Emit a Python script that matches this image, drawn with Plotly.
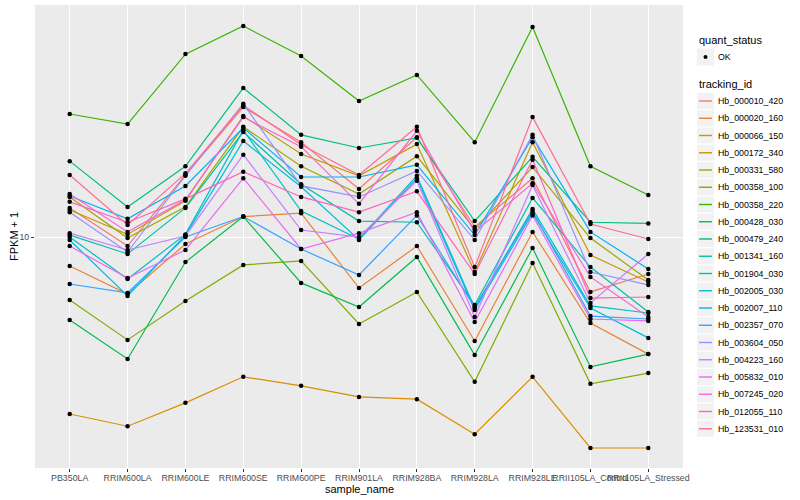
import plotly.graph_objects as go

samples = ["PB350LA", "RRIM600LA", "RRIM600LE", "RRIM600SE", "RRIM600PE", "RRIM901LA",
           "RRIM928BA", "RRIM928LA", "RRIM928LE", "RRII105LA_Control", "RRII105LA_Stressed"]

tracking_ids = ["Hb_000010_420", "Hb_000020_160", "Hb_000066_150", "Hb_000172_340", "Hb_000331_580",
                "Hb_000358_100", "Hb_000358_220", "Hb_000428_030", "Hb_000479_240", "Hb_001341_160",
                "Hb_001904_030", "Hb_002005_030", "Hb_002007_110", "Hb_002357_070", "Hb_003604_050",
                "Hb_004223_160", "Hb_005832_010", "Hb_007245_020", "Hb_012055_110", "Hb_123531_010"]

palette = ["#F8766D", "#EA8331", "#D89000", "#C09B00", "#A3A500", "#7CAE00", "#39B600", "#00BB4E",
           "#00BF7D", "#00C1A3", "#00BFC4", "#00BAE0", "#00B0F6", "#35A2FF", "#9590FF", "#C77CFF",
           "#E76BF3", "#FA62DB", "#FF62BC", "#FF6C91"]

# FPKM + 1 per sample (order of `samples`)
Hb_000010_420 = [12.5, 9.33, 16.1, 27.1, 20.7, 14.45, 21.5, 10.8, 15.7, 6.56, 7.53]
Hb_000020_160 = [8.00, 6.46, 9.48, 11.7, 12.0, 6.76, 9.33, 4.50, 10.4, 5.17, 4.07]
Hb_000066_150 = [2.57, 2.34, 2.80, 3.42, 3.19, 2.93, 2.88, 2.20, 3.42, 1.98, 1.98]
Hb_000172_340 = [12.3, 10.2, 13.2, 25.3, 18.9, 16.0, 20.4, 7.64, 20.7, 8.71, 7.08]
Hb_000331_580 = [13.6, 9.92, 12.6, 23.3, 17.2, 13.9, 18.6, 10.6, 17.1, 9.92, 7.19]
Hb_000358_100 = [6.17, 4.54, 6.12, 8.07, 8.32, 5.13, 6.56, 3.29, 8.19, 3.24, 3.52]
Hb_000358_220 = [25.7, 23.8, 40.7, 50.5, 40.1, 28.4, 34.7, 20.7, 50.1, 17.2, 13.8]
Hb_000428_030 = [5.29, 3.92, 8.25, 11.7, 7.03, 5.84, 8.58, 4.04, 9.19, 3.69, 4.07]
Hb_000479_240 = [17.9, 12.6, 17.2, 31.4, 21.9, 19.8, 21.4, 11.3, 18.5, 11.2, 11.1]
Hb_001341_160 = [10.15, 8.78, 12.5, 22.4, 15.0, 11.3, 11.2, 5.93, 13.5, 7.94, 5.62]
Hb_001904_030 = [10.0, 7.24, 10.2, 22.7, 12.2, 9.85, 16.0, 5.80, 12.4, 5.89, 5.58]
Hb_002005_030 = [9.77, 6.36, 10.15, 20.9, 14.7, 9.77, 15.7, 5.71, 12.0, 5.80, 4.61]
Hb_002007_110 = [13.7, 11.5, 14.8, 23.1, 15.85, 15.85, 17.4, 10.15, 21.5, 10.4, 7.82]
Hb_002357_070 = [6.97, 6.51, 10.0, 11.7, 9.12, 7.47, 11.8, 5.84, 12.2, 5.45, 5.33]
Hb_003604_050 = [12.1, 8.91, 16.0, 27.8, 14.8, 13.6, 16.6, 9.77, 21.9, 7.64, 6.92]
Hb_004223_160 = [10.3, 9.05, 10.08, 18.8, 10.55, 10.0, 15.4, 5.41, 14.9, 6.03, 8.78]
Hb_005832_010 = [9.33, 7.30, 9.05, 15.7, 9.12, 10.3, 12.1, 5.21, 11.8, 5.33, 5.25]
Hb_007245_020 = [13.9, 10.4, 13.3, 25.1, 20.0, 12.9, 22.6, 10.4, 15.1, 7.36, 5.41]
Hb_012055_110 = [13.1, 11.2, 13.4, 16.5, 13.6, 12.1, 14.2, 7.53, 18.1, 6.26, 6.31]
Hb_123531_010 = [16.1, 10.96, 16.3, 27.5, 20.3, 16.1, 23.3, 7.94, 25.1, 11.05, 9.85]

series = [Hb_000010_420, Hb_000020_160, Hb_000066_150, Hb_000172_340, Hb_000331_580,
          Hb_000358_100, Hb_000358_220, Hb_000428_030, Hb_000479_240, Hb_001341_160,
          Hb_001904_030, Hb_002005_030, Hb_002007_110, Hb_002357_070, Hb_003604_050,
          Hb_004223_160, Hb_005832_010, Hb_007245_020, Hb_012055_110, Hb_123531_010]

FONT = "Liberation Sans, Arial, Helvetica, sans-serif"
W, H = 800, 500
L, R, T, B = 35, 117, 5, 32
PW, PH = W - L - R, H - T - B

def px(x):
    return (x - L) / PW

def py(y):
    return (H - B - y) / PH

fig = go.Figure()

for name, vals, col in zip(tracking_ids, series, palette):
    fig.add_trace(go.Scatter(x=samples, y=vals, mode="lines", name=name,
                             line=dict(color=col, width=1.2), showlegend=False,
                             hoverinfo="skip"))
for name, vals in zip(tracking_ids, series):
    fig.add_trace(go.Scatter(x=samples, y=vals, mode="markers", name=name,
                             marker=dict(color="black", size=4.5), showlegend=False))

annotations = []
shapes = []

def note(text, x, y, size, xanchor="left", angle=0):
    annotations.append(dict(text=text, x=px(x), y=py(y), xref="paper", yref="paper",
                            xanchor=xanchor, yanchor="middle", showarrow=False, textangle=angle,
                            font=dict(size=size, color="black", family=FONT)))

# axis titles
note("FPKM + 1", 14, 237, 11, xanchor="center", angle=-90)
note("sample_name", 359, 489, 11, xanchor="center")

# legend: quant_status
note("quant_status", 697, 40, 11)
shapes.append(dict(type="rect", xref="paper", yref="paper", x0=px(697), x1=px(714),
                   y0=py(48.5), y1=py(65.5), fillcolor="#F2F2F2", line=dict(width=0), layer="above"))
shapes.append(dict(type="circle", xref="paper", yref="paper", x0=px(703.5), x1=px(707.5),
                   y0=py(55), y1=py(59), fillcolor="black", line=dict(width=0), layer="above"))
note("OK", 716, 57, 8.8)

# legend: tracking_id
note("tracking_id", 697, 84, 11)
for i, (name, col) in enumerate(zip(tracking_ids, palette)):
    cy = 101 + 17.25 * i
    shapes.append(dict(type="rect", xref="paper", yref="paper", x0=px(697), x1=px(714),
                       y0=py(cy - 8), y1=py(cy + 8), fillcolor="#F2F2F2", line=dict(width=0),
                       layer="above"))
    shapes.append(dict(type="line", xref="paper", yref="paper", x0=px(699), x1=px(712),
                       y0=py(cy), y1=py(cy), line=dict(color=col, width=1.4), layer="above"))
    note(name, 716, cy, 8.8)

fig.update_layout(
    width=W, height=H, autosize=False,
    margin=dict(l=L, r=R, t=T, b=B, pad=0),
    paper_bgcolor="white", plot_bgcolor="#EBEBEB",
    font=dict(family=FONT, size=8.8, color="#4D4D4D"),
    showlegend=False,
    annotations=annotations, shapes=shapes,
    xaxis=dict(type="category", categoryorder="array", categoryarray=samples,
               range=[-0.6, 10.6], tickangle=0, showgrid=True, gridcolor="white", gridwidth=1.1,
               zeroline=False, showline=False, ticks="outside", ticklen=3, tickcolor="#333333",
               tickwidth=1, ticklabelstandoff=-2,
               tickfont=dict(size=8.8, color="#4D4D4D", family=FONT)),
    yaxis=dict(type="log", range=[0.23, 1.7733], tickvals=[10], ticktext=["10"],
               showgrid=True, gridcolor="white", gridwidth=1.1, zeroline=False, showline=False,
               ticks="outside", ticklen=3, tickcolor="#333333", tickwidth=1,
               tickfont=dict(size=8.8, color="#4D4D4D", family=FONT)),
)

fig.write_html("out.html", config={"displayModeBar": False},
               post_script="document.body.style.margin='0';document.body.style.overflow='hidden';")
